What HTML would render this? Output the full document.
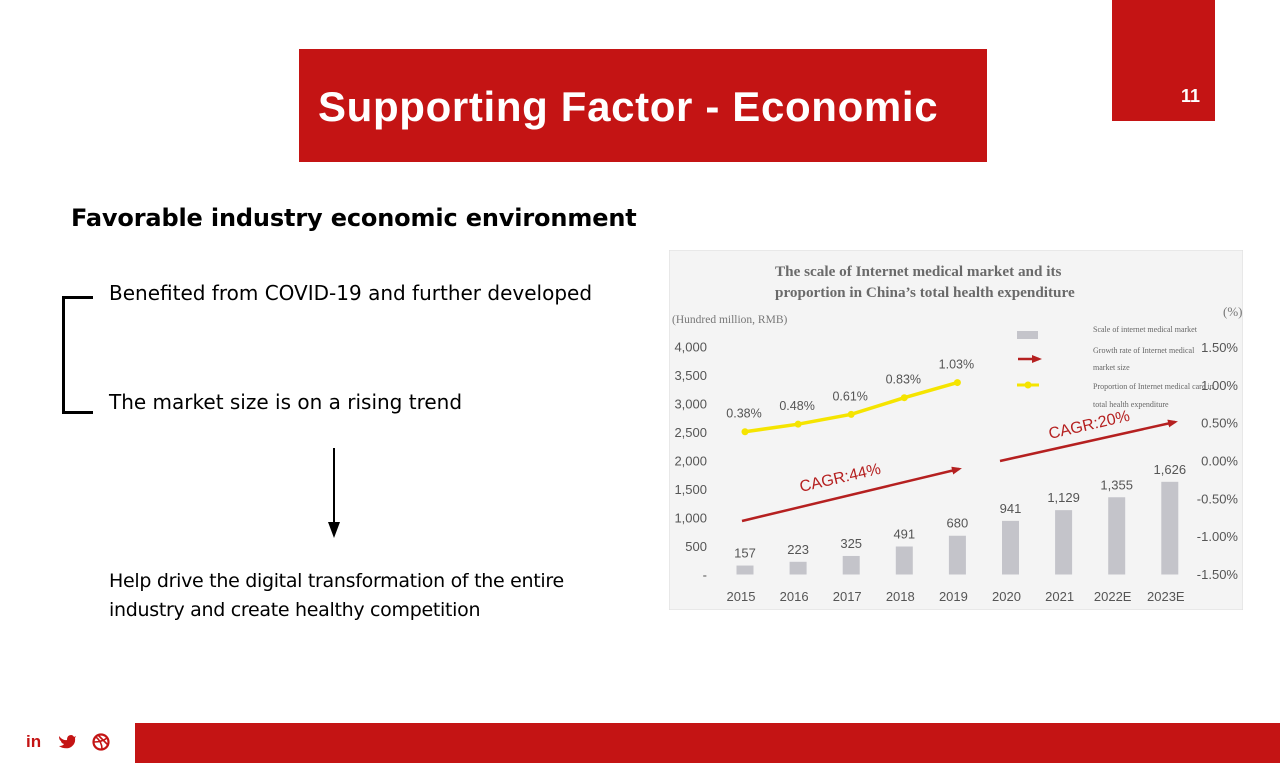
<!DOCTYPE html>
<html><head><meta charset="utf-8"><style>
body{margin:0;width:1280px;height:763px;position:relative;background:#fff;font-family:"Liberation Sans",sans-serif;overflow:hidden}
.a{position:absolute}
.t{font-family:"DejaVu Sans","Liberation Sans",sans-serif;color:#000}
</style></head><body>
<div class="a" style="left:1112px;top:0;width:103px;height:121px;background:#c41414"></div>
<div class="a" style="left:1181px;top:86px;font:bold 18px 'Liberation Sans';color:#fff">11</div>
<div class="a" style="left:299px;top:49px;width:688px;height:113px;background:#c41414"></div>
<div class="a" style="left:318px;top:83px;font:bold 42px 'Liberation Sans',sans-serif;color:#fff;letter-spacing:0.65px">Supporting Factor - Economic</div>
<div class="a t" style="left:71px;top:204px;font-weight:bold;font-size:24px;letter-spacing:-0.15px">Favorable industry economic environment</div>
<div class="a" style="left:62px;top:296px;width:28px;height:112px;border:3px solid #000;border-right:none"></div>
<div class="a t" style="left:109px;top:281px;font-size:20px">Benefited from COVID-19 and further developed</div>
<div class="a t" style="left:109px;top:390px;font-size:20px">The market size is on a rising trend</div>
<div class="a" style="left:333px;top:448px;width:2px;height:78px;background:#000"></div>
<div class="a" style="left:328px;top:522px;width:0;height:0;border-left:6px solid transparent;border-right:6px solid transparent;border-top:16px solid #000"></div>
<div class="a t" style="left:109px;top:567px;font-size:19px;line-height:29px;letter-spacing:-0.3px">Help drive the digital transformation of the entire<br>industry and create healthy competition</div>
<div class="a" style="left:135px;top:723px;width:1145px;height:40px;background:#c41414"></div>
<div class="a" style="left:26px;top:732px;font:bold 17px 'Liberation Sans';color:#c41414">in</div>
<svg class="a" style="left:58px;top:734px" width="18" height="15" viewBox="0 0 18 15"><path d="M1 2 Q5 7 9 6 Q9 1 13 1 Q15 1 16 3 L18 2 L17 4 Q18 11 11 14 Q5 15 1 12 Q5 12 6 10 Q3 9 3 7 Q1 6 1 2Z" fill="#c41414"/></svg>
<svg class="a" style="left:92px;top:733px" width="18" height="18"><circle cx="9" cy="9" r="7.5" fill="none" stroke="#c41414" stroke-width="2.2"/><path d="M4 4 Q10 9 10 16 M2 9 Q10 9 15 5 M6 2 Q12 8 16 12" fill="none" stroke="#c41414" stroke-width="1.6"/></svg>

<svg class="a" id="chart" style="left:669px;top:250px" width="574" height="360"></svg>
<script>
const years=["2015","2016","2017","2018","2019","2020","2021","2022E","2023E"];
const sizes=[157,223,325,491,680,941,1129,1355,1626];
const sizeLabels=["157","223","325","491","680","941","1,129","1,355","1,626"];
const share=[0.38,0.48,0.61,0.83,1.03];
const shareLabels=["0.38%","0.48%","0.61%","0.83%","1.03%"];
const leftTicks=[0,500,1000,1500,2000,2500,3000,3500,4000];
const rightTicks=[-1.5,-1.0,-0.5,0,0.5,1.0,1.5];
const svg=document.getElementById('chart');const NS='http://www.w3.org/2000/svg';
const ox=669,oy=250;
function xs(i){return 745+i*53.1-ox}
function yl(v){return 574.5-v*0.057-oy}
function yr(v){return 347+(1.5-v)/3*227-oy}
function el(tag,attrs,text,name){const e=document.createElementNS(NS,tag);for(const k in attrs)e.setAttribute(k,attrs[k]);if(text!==undefined)e.textContent=text;


svg.appendChild(e);return e}
el('rect',{x:0,y:0,width:574,height:360,fill:'#f4f4f4',stroke:'#ddd'},undefined,'chart-background');
const ser="font-family:'Liberation Serif',serif;";
const nar="font-family:'Liberation Sans Narrow','Liberation Sans',sans-serif;";
el('text',{x:106,y:26,style:ser+'font-weight:bold;font-size:15.2px;fill:#6a6a6a'},'The scale of Internet medical market and its','chart-title-1');
el('text',{x:106,y:47,style:ser+'font-weight:bold;font-size:15.2px;fill:#6a6a6a'},'proportion in China\u2019s total health expenditure','chart-title-2');
el('text',{x:3,y:73,style:ser+'font-size:11.5px;fill:#777'},'(Hundred million, RMB)','left-axis-unit');
el('text',{x:554,y:66,style:ser+'font-size:13px;fill:#777'},'(%)','right-axis-unit');
leftTicks.forEach(v=>{el('text',{x:38,y:yl(v)+5,'text-anchor':'end',style:nar+'font-size:13px;fill:#555'},v===0?'-':v.toLocaleString('en-US'),'left-tick')});
rightTicks.forEach(v=>{el('text',{x:569,y:yr(v)+5,'text-anchor':'end',style:nar+'font-size:13px;fill:#555'},v.toFixed(2)+'%','right-tick')});
sizes.forEach((v,i)=>{el('rect',{x:xs(i)-8.5,y:yl(v),width:17,height:yl(0)-yl(v),fill:'#c4c4ca'},undefined,'bar-'+years[i]);
el('text',{x:xs(i),y:yl(v)-8,'text-anchor':'middle',style:nar+'font-size:13px;fill:#555'},sizeLabels[i],'bar-value-label');
el('text',{x:xs(i)-4,y:351,'text-anchor':'middle',style:nar+'font-size:13px;fill:#555'},years[i],'x-tick')});
let d='';share.forEach((v,i)=>{d+=(i?'L':'M')+xs(i)+' '+yr(v)});
el('path',{d:d,fill:'none',stroke:'#f5e400','stroke-width':3.5},undefined,'share-line');
share.forEach((v,i)=>{el('circle',{cx:xs(i),cy:yr(v),r:3.5,fill:'#f5e400'},undefined,'share-point');
el('text',{x:xs(i)-1,y:yr(v)-14,'text-anchor':'middle',style:nar+'font-size:12.5px;fill:#555'},shareLabels[i],'share-label')});
el('defs',{},undefined,'defs').innerHTML='<marker id="ah" markerUnits="userSpaceOnUse" markerWidth="10" markerHeight="8" refX="7" refY="4" orient="auto"><path d="M0 0L10 4L0 8Z" fill="#b52020"/></marker>';
el('line',{x1:73,y1:271,x2:290,y2:219,stroke:'#b52020','stroke-width':2.5,'marker-end':'url(#ah)'},undefined,'cagr-arrow-1');
el('line',{x1:331,y1:211,x2:506,y2:172,stroke:'#b52020','stroke-width':2.5,'marker-end':'url(#ah)'},undefined,'cagr-arrow-2');
el('text',{x:132,y:242,transform:'rotate(-13 132 242)',style:nar+'font-size:16px;fill:#b52020'},'CAGR:44%','cagr-label-1');
el('text',{x:381,y:189,transform:'rotate(-13 381 189)',style:nar+'font-size:16px;fill:#b52020'},'CAGR:20%','cagr-label-2');
el('rect',{x:348,y:81,width:21,height:8,fill:'#c4c4ca'},undefined,'legend-bar-swatch');
el('line',{x1:349,y1:109,x2:370,y2:109,stroke:'#b52020','stroke-width':2.5,'marker-end':'url(#ah)'},undefined,'legend-arrow-swatch');
el('line',{x1:348,y1:135,x2:370,y2:135,stroke:'#f5e400','stroke-width':3},undefined,'legend-line-swatch');
el('circle',{cx:359,cy:135,r:3.5,fill:'#f5e400'},undefined,'legend-line-point');
[['Scale of internet medical market',82],['Growth rate of Internet medical',103],['market size',120],['Proportion of Internet medical care in',139],['total health expenditure',157]].forEach(a=>{el('text',{x:424,y:a[1],style:ser+'font-size:8px;fill:#666'},a[0],'legend-text')});
</script>
</body></html>
